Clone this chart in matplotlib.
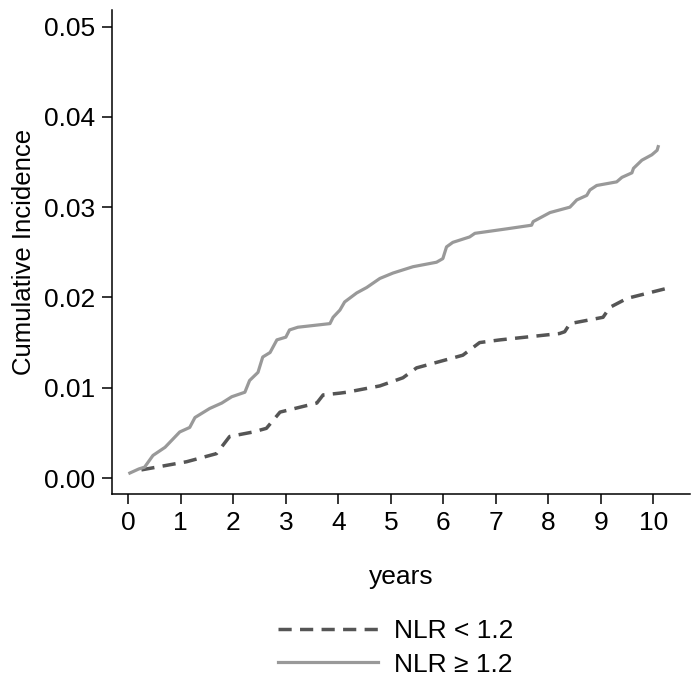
import matplotlib
matplotlib.use("Agg")
import matplotlib.pyplot as plt

plt.rcParams['font.family'] = ['Liberation Sans', 'DejaVu Sans']

# Data
low_years = [0.25, 1.11, 1.68, 1.93, 2.38, 2.63, 2.89, 3.59, 3.71, 4.03, 4.16, 4.79,
             5.23, 5.49, 6.37, 6.69, 7.08, 8.21, 8.31, 8.41, 9.04, 9.17, 9.5, 10.32]
low_inc = [0.0009, 0.0018, 0.0027, 0.0046, 0.0051, 0.0055, 0.0073, 0.0083, 0.0092, 0.0094,
           0.0095, 0.0102, 0.0111, 0.0122, 0.0136, 0.0150, 0.0153, 0.0160, 0.0162, 0.0171,
           0.0178, 0.0189, 0.0199, 0.0211]

high_years = [0.03, 0.2, 0.31, 0.47, 0.7, 0.98, 1.17, 1.27, 1.55, 1.78, 1.97, 2.22, 2.31,
              2.47, 2.56, 2.7, 2.83, 3.0, 3.07, 3.23, 3.84, 3.9, 4.03, 4.12, 4.35, 4.54,
              4.79, 5.04, 5.42, 5.87, 5.99, 6.06, 6.18, 6.5, 6.6, 7.21, 7.68, 7.71, 8.03,
              8.41, 8.54, 8.73, 8.79, 8.92, 9.3, 9.4, 9.59, 9.62, 9.78, 9.97, 10.07, 10.09]
high_inc = [0.00055, 0.0010, 0.0012, 0.0025, 0.0034, 0.0051, 0.0056, 0.0067, 0.0077, 0.0083,
            0.0090, 0.0095, 0.0108, 0.0117, 0.0134, 0.0139, 0.0153, 0.0156, 0.0164, 0.0167,
            0.0171, 0.0178, 0.0186, 0.0195, 0.0205, 0.0211, 0.0221, 0.0227, 0.0234, 0.0239,
            0.0243, 0.0256, 0.0261, 0.0267, 0.0271, 0.0276, 0.0280, 0.0284, 0.0294, 0.0300,
            0.0308, 0.0313, 0.0319, 0.0324, 0.0328, 0.0333, 0.0338, 0.0343, 0.0352, 0.0358,
            0.0363, 0.0367]

x_ticks = list(range(0, 11))
y_ticks = [0.00, 0.01, 0.02, 0.03, 0.04, 0.05]
y_ticklabels = ["0.00", "0.01", "0.02", "0.03", "0.04", "0.05"]
labels = ["NLR < 1.2", "NLR \u2265 1.2"]

fig = plt.figure(figsize=(7.0, 6.88), dpi=100)
ax = fig.add_axes([0.16, 0.282, 0.826, 0.703])

ax.plot(low_years, low_inc, color='#555555', lw=2.5, linestyle=(0, (3.8, 2.4)),
        label=labels[0])
ax.plot(high_years, high_inc, color='#999999', lw=2.3, label=labels[1])

ax.set_xlim(-0.31, 10.7)
ax.set_ylim(-0.00177, 0.0518)
ax.set_xticks(x_ticks)
ax.set_yticks(y_ticks)
ax.set_yticklabels(y_ticklabels)

for s in ['top', 'right']:
    ax.spines[s].set_visible(False)
for s in ['left', 'bottom']:
    ax.spines[s].set_linewidth(1.1)
ax.tick_params(axis='both', direction='out', length=7, width=1.1, labelsize=19,
               pad=5, colors='black')

ax.set_ylabel("Cumulative Incidence", fontsize=18.5, labelpad=6)
ax.set_xlabel("years", fontsize=19, labelpad=22)

ax.legend(loc='upper center', bbox_to_anchor=(0.49, -0.21), frameon=False,
          fontsize=19, handlelength=3.8, handletextpad=0.6, labelspacing=0.35)

fig.savefig("out.png", dpi=100)
